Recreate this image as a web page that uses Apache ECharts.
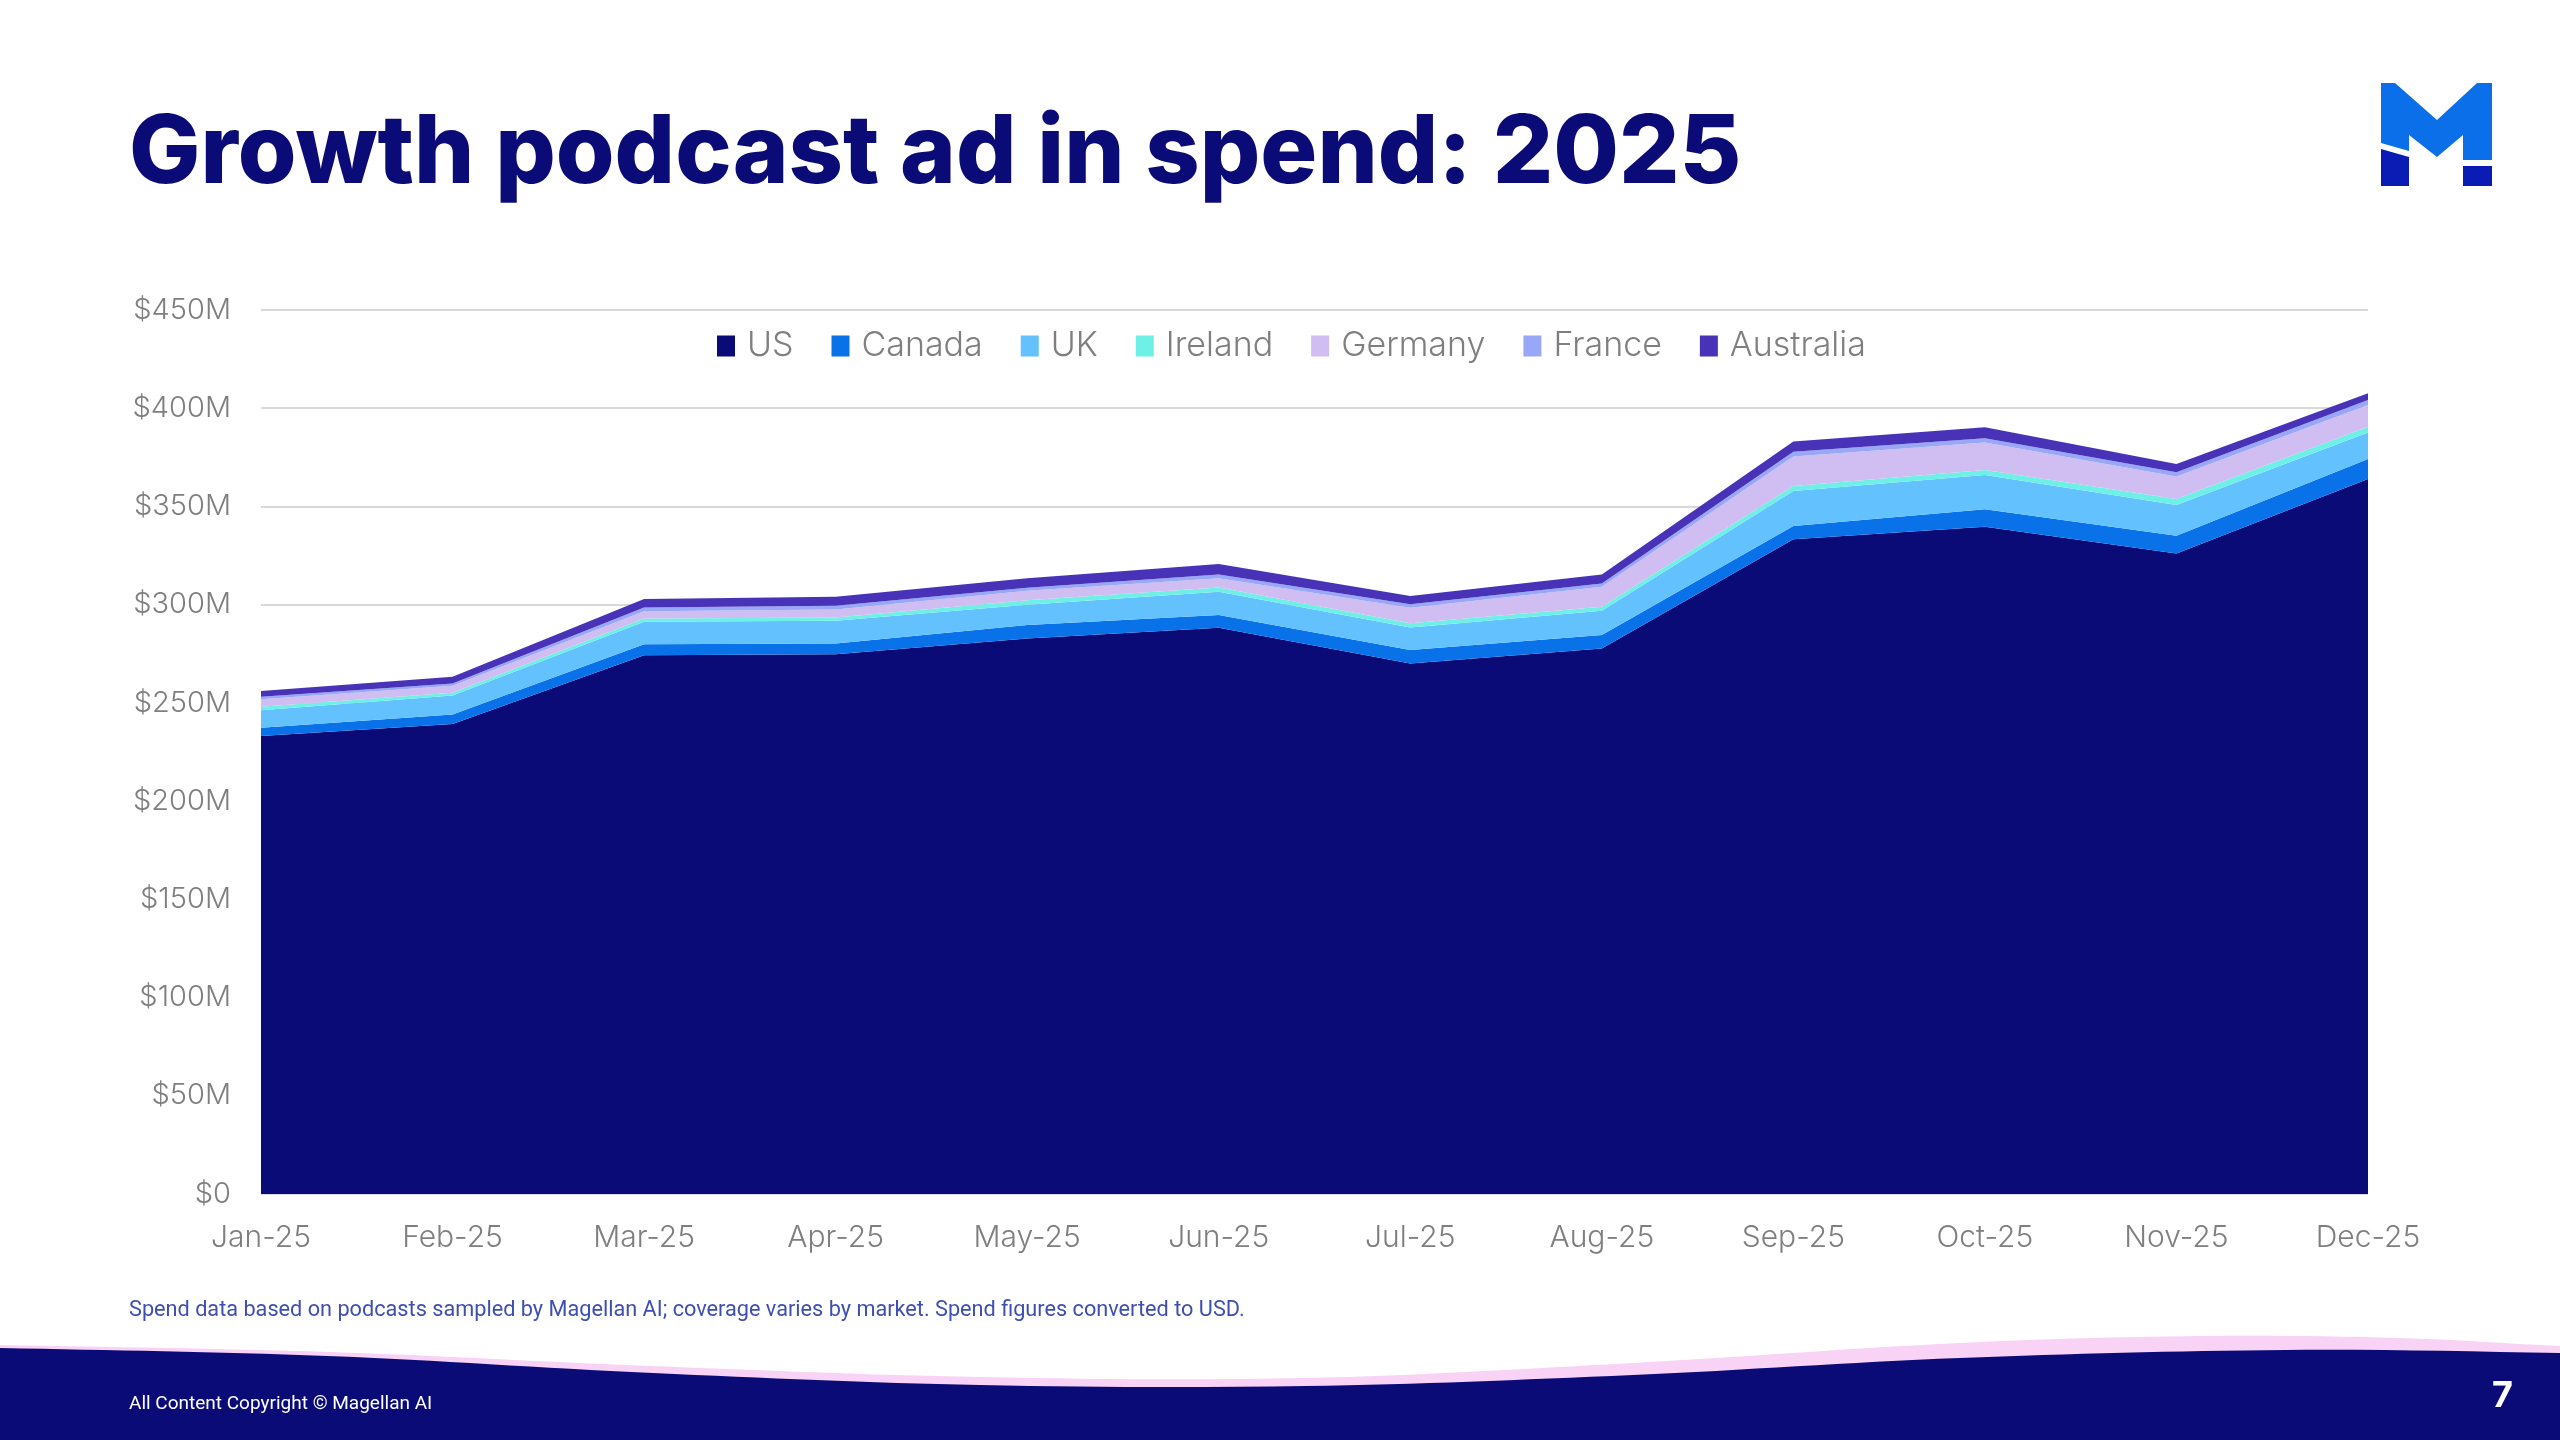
<!DOCTYPE HTML>
<html>
<head>
    <meta charset="utf-8">
    <title>Growth podcast ad in spend: 2025</title>
    <script src="https://cdn.jsdelivr.net/npm/echarts@6.0.0/dist/echarts.min.js"></script>
    <style>
        html, body { margin: 0; padding: 0; background: #ffffff; }
        #main { width: 2560px; height: 1440px; }
    </style>
</head>
<body>
<div id="main"></div>
<script type="text/javascript">

    // monthly ad spend, $M
    var months = ['Jan-25', 'Feb-25', 'Mar-25', 'Apr-25', 'May-25', 'Jun-25',
                  'Jul-25', 'Aug-25', 'Sep-25', 'Oct-25', 'Nov-25', 'Dec-25'];

    var us        = [233.1, 239.2, 274.3, 274.7, 282.8, 288.2, 270.1, 277.7, 333.3, 339.7, 326.1, 364.0];
    var canada    = [4.2, 4.9, 5.5, 5.5, 6.8, 6.5, 6.8, 6.8, 6.7, 8.9, 9.0, 10.2];
    var uk        = [9.0, 9.7, 11.5, 11.6, 10.4, 11.9, 11.5, 12.4, 17.9, 17.4, 15.6, 13.4];
    var ireland   = [1.7, 1.3, 1.7, 1.7, 2.3, 2.2, 2.1, 2.0, 2.5, 2.6, 3.1, 3.0];
    var germany   = [3.9, 3.6, 3.7, 4.1, 4.8, 4.6, 7.9, 10.2, 15.0, 13.9, 11.4, 11.1];
    var france    = [1.2, 1.2, 1.9, 1.8, 1.5, 2.0, 1.8, 1.7, 2.5, 2.2, 2.2, 2.5];
    var australia = [2.9, 3.4, 4.3, 4.6, 4.9, 5.3, 4.2, 4.6, 5.1, 5.6, 4.2, 3.4];

    var seriesNames = ['US', 'Canada', 'UK', 'Ireland', 'Germany', 'France', 'Australia'];
    var seriesData = [us, canada, uk, ireland, germany, france, australia];
    var seriesColors = ['#0b0b78', '#0a72e8', '#63c1fd', '#6ff0e6', '#d0bdf2', '#98a7f6', '#4833b8'];

    var navy = '#0b0b78';
    var labelFont = 'Inter, "Noto Sans", sans-serif';

    function buildSeries() {
        var list = [];
        for (var i = 0; i < seriesNames.length; i++) {
            list.push({
                name: seriesNames[i],
                type: 'line',
                stack: 'spend',
                data: seriesData[i],
                symbol: 'none',
                lineStyle: { width: 0 },
                areaStyle: { color: seriesColors[i], opacity: 1 },
                itemStyle: { color: seriesColors[i] },
                emphasis: { disabled: true },
                z: 2
            });
        }
        return list;
    }

    function buildChart() {
        var myChart = echarts.init(document.getElementById('main'));

        var option = {
            animation: false,
            backgroundColor: '#ffffff',
            title: {
                text: 'Growth podcast ad in spend: 2025',
                left: 124,
                top: 102,
                textStyle: {
                    color: navy,
                    fontFamily: 'Inter, sans-serif',
                    fontWeight: 800,
                    fontSize: 95
                }
            },
            legend: {
                left: 712,
                top: 324,
                itemWidth: 18,
                itemHeight: 21,
                itemGap: 38,
                icon: 'rect',
                textStyle: {
                    color: '#7f7f7f',
                    fontFamily: labelFont,
                    fontWeight: 300,
                    fontSize: 34,
                    padding: [0, 0, 0, 7]
                },
                data: seriesNames
            },
            grid: {
                left: 261,
                right: 192,
                top: 310,
                bottom: 246
            },
            xAxis: {
                type: 'category',
                data: months,
                boundaryGap: false,
                axisLine: { show: false },
                axisTick: { show: false },
                axisLabel: {
                    color: '#7f7f7f',
                    fontFamily: labelFont,
                    fontWeight: 300,
                    fontSize: 30,
                    margin: 29
                }
            },
            yAxis: {
                type: 'value',
                min: 0,
                max: 450,
                interval: 50,
                axisLine: { show: false },
                axisTick: { show: false },
                splitLine: { lineStyle: { color: '#d9d9d9', width: 2 } },
                axisLabel: {
                    color: '#7f7f7f',
                    fontFamily: labelFont,
                    fontWeight: 300,
                    fontSize: 29,
                    margin: 30,
                    formatter: function (v) { return v === 0 ? '$0' : '$' + v + 'M'; }
                }
            },
            series: buildSeries(),
            graphic: [
                // footer wave (points run past the edges so smoothing stays off-canvas)
                {
                    type: 'polygon',
                    silent: true,
                    z: 0,
                    shape: {
                        smooth: 0.35,
                        points: [[-300, 1340], [0, 1345], [330, 1352], [650, 1366], [980, 1377], [1306, 1378],
                                 [1633, 1363], [1960, 1343], [2200, 1336], [2400, 1338], [2560, 1346],
                                 [2800, 1356], [2800, 1700], [-300, 1700]]
                    },
                    style: { fill: '#f8d3f5' }
                },
                {
                    type: 'polygon',
                    silent: true,
                    z: 1,
                    shape: {
                        smooth: 0.35,
                        points: [[-300, 1343], [0, 1348], [327, 1356], [653, 1373], [980, 1385], [1306, 1386],
                                 [1633, 1375], [1960, 1358], [2286, 1350], [2560, 1353],
                                 [2800, 1358], [2800, 1700], [-300, 1700]]
                    },
                    style: { fill: navy }
                },
                {
                    type: 'text',
                    left: 129,
                    top: 1300,
                    style: {
                        text: 'Spend data based on podcasts sampled by Magellan AI; coverage varies by market. Spend figures converted to USD.',
                        fill: '#3d4fb0',
                        font: '21.7px Roboto, sans-serif'
                    }
                },
                {
                    type: 'text',
                    left: 129,
                    top: 1395,
                    z: 3,
                    style: {
                        text: 'All Content Copyright \u00a9 Magellan AI',
                        fill: '#ffffff',
                        font: '19px Roboto, sans-serif'
                    }
                },
                {
                    type: 'text',
                    left: 2492,
                    top: 1378,
                    z: 3,
                    style: {
                        text: '7',
                        fill: '#ffffff',
                        font: 'bold 36px Inter, sans-serif'
                    }
                },
                // logo
                {
                    type: 'polygon',
                    silent: true,
                    shape: {
                        points: [[2381, 83], [2395, 83], [2437, 120], [2477, 83], [2492, 83],
                                 [2492, 160], [2463, 160], [2463, 135], [2437, 157], [2409, 135],
                                 [2409, 151], [2381, 143]]
                    },
                    style: { fill: '#0a6fe8' }
                },
                {
                    type: 'polygon',
                    silent: true,
                    shape: { points: [[2381, 149], [2409, 157], [2409, 186], [2381, 186]] },
                    style: { fill: '#0a1cb4' }
                },
                {
                    type: 'polygon',
                    silent: true,
                    shape: { points: [[2463, 166], [2492, 166], [2492, 186], [2463, 186]] },
                    style: { fill: '#0a1cb4' }
                }
            ]
        };

        myChart.setOption(option);
    }

    buildChart();

</script>
</body>
</html>
